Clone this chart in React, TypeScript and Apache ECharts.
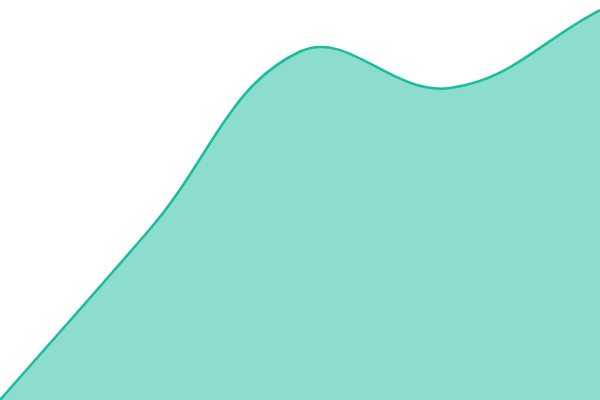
import { useEffect, useRef } from 'react';
import * as echarts from 'echarts';

// five samples, evenly spaced across the width
const categories = ['A', 'B', 'C', 'D', 'E'];
const values = [0, 171, 348.5, 312, 390];

const lineColor = '#1abc9c';
const fillColor = 'rgba(26, 188, 156, 0.5)';
const tension = 0.4;

// cardinal-style spline control points (tension 0.4), like a canvas chart lib
function buildPath(pts: number[][], baseY: number) {
  const n = pts.length;
  const cps = pts.map((cur, i) => {
    const prev = pts[i - 1] || cur;
    const next = pts[i + 1] || cur;
    const d01 = Math.hypot(cur[0] - prev[0], cur[1] - prev[1]);
    const d12 = Math.hypot(next[0] - cur[0], next[1] - cur[1]);
    let s01 = d01 / (d01 + d12);
    let s12 = d12 / (d01 + d12);
    if (isNaN(s01)) s01 = 0;
    if (isNaN(s12)) s12 = 0;
    const fa = tension * s01;
    const fb = tension * s12;
    return {
      prev: [cur[0] - fa * (next[0] - prev[0]), cur[1] - fa * (next[1] - prev[1])],
      next: [cur[0] + fb * (next[0] - prev[0]), cur[1] + fb * (next[1] - prev[1])],
    };
  });
  let line = `M${pts[0][0]},${pts[0][1]}`;
  for (let i = 1; i < n; i++) {
    const a = cps[i - 1].next;
    const b = cps[i].prev;
    line += ` C${a[0]},${a[1]} ${b[0]},${b[1]} ${pts[i][0]},${pts[i][1]}`;
  }
  const area = `${line} L${pts[n - 1][0]},${baseY} L${pts[0][0]},${baseY} Z`;
  return { line, area };
}

export default function App() {
  const chartRef = useRef<HTMLDivElement>(null);

  useEffect(() => {
    document.body.style.margin = '0';
    if (!chartRef.current) return;

    const chart = echarts.init(chartRef.current, null, { renderer: 'svg' });

    chart.setOption({
      animation: false,
      grid: { left: 0, right: 0, top: 0, bottom: 0 },
      xAxis: {
        type: 'category',
        data: categories,
        boundaryGap: false,
        show: false,
      },
      yAxis: {
        type: 'value',
        min: 0,
        max: 400,
        show: false,
      },
      series: [
        {
          type: 'custom',
          data: values.map((v, i) => [i, v]),
          encode: { x: 0, y: 1 },
          renderItem: (params: any, api: any) => {
            if (params.dataIndex !== 0) return null;
            const pts = values.map((v, i) => api.coord([i, v]));
            const baseY = api.coord([0, 0])[1];
            const { line, area } = buildPath(pts, baseY);
            return {
              type: 'group',
              children: [
                {
                  type: 'path',
                  shape: { pathData: area },
                  style: { fill: fillColor, stroke: 'none' },
                },
                {
                  type: 'path',
                  shape: { pathData: line },
                  style: { fill: 'none', stroke: lineColor, lineWidth: 2.5 },
                },
              ],
            };
          },
        },
      ],
    });

    return () => {
      chart.dispose();
    };
  }, []);

  return <div ref={chartRef} style={{ width: '600px', height: '400px' }} />;
}
